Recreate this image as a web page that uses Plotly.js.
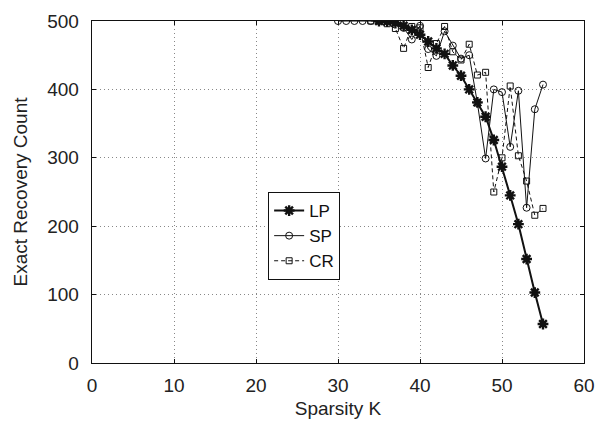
<!DOCTYPE html>
<html>
<head>
<meta charset="utf-8">
<script src="https://cdn.plot.ly/plotly-3.0.1.min.js"></script>
<style>html,body{margin:0;padding:0;background:#fff;}#chart{width:610px;height:422px;}</style>
</head>
<body>
<div id="chart"></div>
<script>
var lpK = [35,36,37,38,39,40,41,42,43,44,45,46,47,48,49,50,51,52,53,54,55];
var lpVal = [500,499,497,493,487,480,470,460,452,435,420,400,381,360,326,287,245,203,152,103,57];

var spK = [30,31,32,33,34,35,36,37,38,39,40,41,42,43,44,45,46,47,48,49,50,51,52,53,54,55];
var spVal = [500,500,500,500,500,500,500,498,490,473,493,459,449,485,464,445,450,380,299,400,396,316,398,227,371,407];

var crK = [34,35,36,37,38,39,40,41,42,43,44,45,46,47,48,49,50,51,52,53,54,55];
var crVal = [500,500,496,489,460,492,490,432,467,492,455,443,466,421,425,250,300,405,303,266,216,226];

var xTicks = [0,10,20,30,40,50,60];
var yTicks = [0,100,200,300,400,500];

var FONT = 'Liberation Sans, Arial, sans-serif';

var traces = [
  {x: lpK, y: lpVal, name: 'LP', mode: 'lines+markers', type: 'scatter',
   line: {color: '#111', width: 2},
   marker: {symbol: 'asterisk-open', size: 9, color: '#111', line: {color: '#111', width: 2.4}}},
  {x: spK, y: spVal, name: 'SP', mode: 'lines+markers', type: 'scatter',
   line: {color: '#111', width: 1},
   marker: {symbol: 'circle-open', size: 7, color: '#111', line: {color: '#111', width: 1}}},
  {x: crK, y: crVal, name: 'CR', mode: 'lines+markers', type: 'scatter',
   line: {color: '#111', width: 1, dash: '4px,3px'},
   marker: {symbol: 'square-open', size: 6, color: '#111', line: {color: '#111', width: 1}}}
];

var axisCommon = {
  showline: true, mirror: 'ticks', linecolor: '#111', linewidth: 1.3,
  ticks: 'inside', ticklen: 4, tickcolor: '#111', tickwidth: 1,
  showgrid: true, gridcolor: '#888', griddash: '1px,3px', gridwidth: 1,
  zeroline: false,
  tickfont: {family: FONT, size: 19, color: '#222'}
};

var layout = {
  width: 610, height: 422,
  margin: {l: 92, r: 26, t: 21, b: 59},
  paper_bgcolor: '#fff', plot_bgcolor: '#fff',
  font: {family: FONT, size: 19, color: '#222'},
  showlegend: true,
  legend: {x: 0.358, y: 0.5, xanchor: 'left', yanchor: 'top',
    bordercolor: '#111', borderwidth: 1, bgcolor: '#fff',
    font: {family: FONT, size: 17, color: '#111'},
    tracegroupgap: 0, itemwidth: 30},
  xaxis: Object.assign({}, axisCommon, {
    range: [0, 60], tickvals: xTicks, ticktext: xTicks.map(String),
    ticklabelstandoff: 5,
    title: {text: 'Sparsity K', font: {family: FONT, size: 19, color: '#222'}, standoff: 6}
  }),
  yaxis: Object.assign({}, axisCommon, {
    range: [0, 500], tickvals: yTicks, ticktext: yTicks.map(String),
    ticklabelstandoff: 8,
    title: {text: 'Exact Recovery Count', font: {family: FONT, size: 19, color: '#222'}, standoff: 14}
  })
};

Plotly.newPlot('chart', traces, layout, {displayModeBar: false, staticPlot: true});
</script>
</body>
</html>
